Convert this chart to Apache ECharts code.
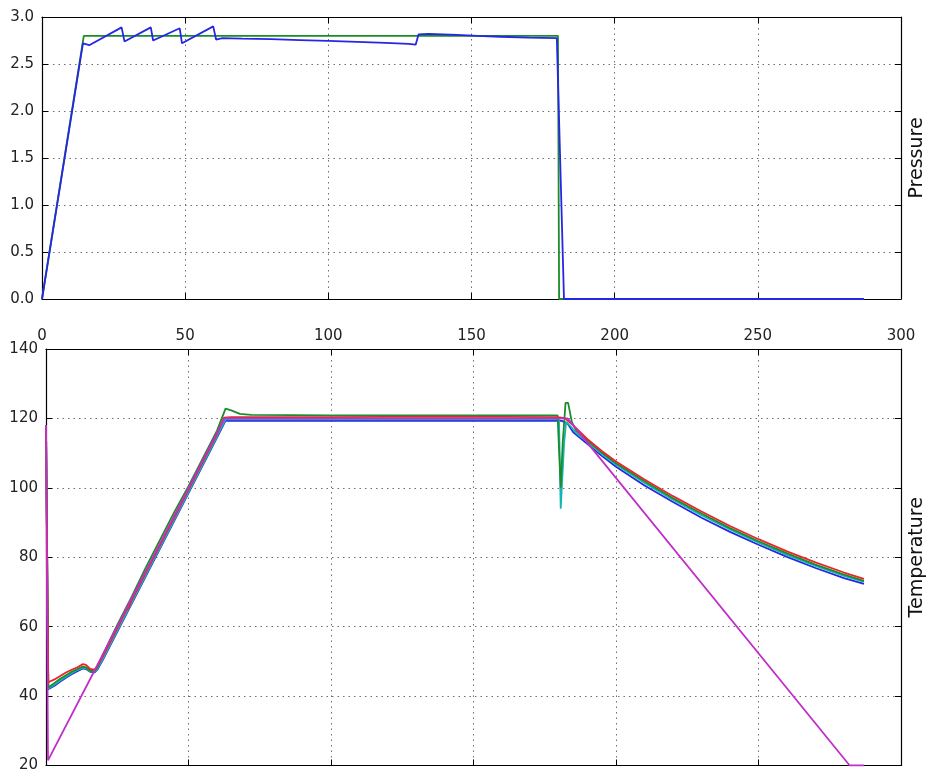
<!DOCTYPE html>
<html>
<head>
<meta charset="utf-8">
<title>Pressure and Temperature</title>
<script src="https://cdn.jsdelivr.net/npm/echarts@6/dist/echarts.min.js"></script>
<style>
  html, body { margin: 0; padding: 0; background: #ffffff; overflow: hidden; }
  #chart { width: 935px; height: 773px; }
</style>
</head>
<body>
<div id="chart"></div>
<script>
// Time axis ticks shared by both panels
const timeTicks = [0, 50, 100, 150, 200, 250, 300];
const pressureTicks = [0.0, 0.5, 1.0, 1.5, 2.0, 2.5, 3.0];
const temperatureTicks = [20, 40, 60, 80, 100, 120, 140];

// Pressure: set point (green) and measured (blue), [time, value]
const pressureSet = [[0, 0], [14.6, 2.8], [180.2, 2.8], [180.6, 0], [287, 0]];
const pressureMeasured = [
  [0, 0], [5, 0.95], [10, 1.9], [14.3, 2.72], [16.5, 2.70], [27.8, 2.89], [28.8, 2.74],
  [38, 2.89], [38.8, 2.75], [48.1, 2.88], [48.9, 2.72], [59.8, 2.90], [60.8, 2.76],
  [63, 2.775], [70, 2.77], [80, 2.765], [90, 2.755], [100, 2.745], [110, 2.735],
  [120, 2.725], [128, 2.715], [130.5, 2.705], [131.5, 2.815], [135, 2.82], [145, 2.81],
  [152, 2.80], [160, 2.79], [170, 2.78], [179.8, 2.775], [182.3, 0], [287, 0]
];

// Temperature probes, [time, value]
const tempRed = [
  [0, 118], [0.8, 44], [1.5, 43.5], [3, 44.8], [5, 45.8], [7, 46.8], [9, 47.6], [11, 48.3],
  [13, 49.2], [14, 49], [15.5, 47.8], [17, 47.6], [18, 48.6], [20, 51.5], [25, 59.5],
  [28, 64.5], [29, 65.5], [30, 67.5], [35, 75.5], [40, 83.5], [45, 91.5], [50, 99.5],
  [55, 107.5], [60, 115.5], [62.5, 120.2], [65, 120.4], [100, 120.4], [140, 120.5],
  [179.5, 120.4], [182, 120.1], [185, 118], [190, 114], [195, 110.6], [200, 107.6],
  [210, 102.4], [220, 97.6], [230, 93.2], [240, 89.0], [250, 85.2], [260, 81.7],
  [270, 78.5], [280, 75.6], [287, 73.8]
];
const tempGreen = [
  [0, 118], [0.8, 42.5], [1.5, 42], [3, 43.8], [5, 45], [7, 46], [9, 47], [11, 47.8],
  [13, 48.5], [14, 48.3], [15.5, 47.3], [17, 47.2], [18, 48.2], [20, 52], [25, 60.5],
  [30, 68.5], [35, 77], [40, 85], [45, 93], [50, 100.5], [55, 108.5], [60, 116.5],
  [63, 122.8], [65, 122.3], [68, 121.3], [72, 121], [100, 120.9], [140, 120.9],
  [179.5, 120.9], [180, 120.5], [180.6, 100], [181.3, 113], [182.3, 124.5], [183.2, 124.5],
  [184.5, 119], [186, 116.5], [190, 113.6], [195, 110.2], [200, 107.1], [210, 101.9],
  [220, 97.0], [230, 92.6], [240, 88.4], [250, 84.6], [260, 81.1], [270, 77.9],
  [280, 75.0], [287, 73.2]
];
const tempCyan = [
  [0, 118], [0.8, 42.2], [1.5, 41.8], [3, 43.3], [5, 44.5], [7, 45.6], [9, 46.6], [11, 47.5],
  [13, 48.2], [14, 48], [15.5, 47.1], [17, 47], [18, 47.8], [20, 50.8], [25, 58.8],
  [30, 66.8], [35, 74.8], [40, 82.8], [45, 90.8], [50, 98.8], [55, 106.8], [60, 114.8],
  [63, 119.7], [65, 119.7], [100, 119.7], [140, 119.8], [180, 119.7], [180.6, 94],
  [181.8, 113], [182.5, 119], [184, 117.8], [186, 115.8], [190, 113.2], [195, 109.8],
  [200, 106.7], [210, 101.4], [220, 96.6], [230, 92.1], [240, 88.0], [250, 84.2],
  [260, 80.7], [270, 77.5], [280, 74.6], [287, 72.9]
];
const tempBlue = [
  [0, 118], [0.8, 42], [1.5, 41.5], [3, 43], [5, 44.2], [7, 45.3], [9, 46.3], [11, 47.2],
  [13, 48], [14, 47.8], [15.5, 47], [17, 46.8], [18, 47.6], [20, 50.5], [25, 58.5],
  [30, 66.5], [35, 74.5], [40, 82.5], [45, 90.5], [50, 98.5], [55, 106.5], [60, 114.5],
  [63, 119.4], [65, 119.3], [100, 119.4], [140, 119.3], [180, 119.4], [181, 119.3],
  [183, 118.5], [185, 116], [190, 112.6], [195, 109.2], [200, 106.1], [210, 100.7],
  [220, 95.9], [230, 91.4], [240, 87.3], [250, 83.6], [260, 80.1], [270, 76.9],
  [280, 74.0], [287, 72.3]
];
const tempSetPoint = [
  [0, 118], [0.7, 21.5], [17, 47.3], [40, 84], [62.6, 120], [183, 120], [282, 20], [287, 20]
];

const font = 'DejaVu Sans';
const gridLine = { show: true, lineStyle: { type: [1.5, 4], color: '#6f6f6f', width: 1 } };
const frameLine = { show: true, onZero: false, lineStyle: { color: '#000', width: 1.2 } };
const tickIn = { show: true, inside: true, length: 6, lineStyle: { color: '#000', width: 1 } };
const labelStyle = { fontFamily: font, fontSize: 15, color: '#222' };

function timeAxis(grid, pos, labels) {
  return {
    type: 'value', gridIndex: grid, position: pos,
    min: timeTicks[0], max: timeTicks[timeTicks.length - 1], interval: 50,
    axisLine: frameLine, axisTick: tickIn,
    axisLabel: labels ? Object.assign({ margin: 30 }, labelStyle) : { show: false },
    splitLine: pos === 'bottom' ? gridLine : { show: false }
  };
}

function valueAxis(grid, pos, ticks, interval, digits, name) {
  return {
    type: 'value', gridIndex: grid, position: pos,
    min: ticks[0], max: ticks[ticks.length - 1], interval: interval,
    axisLine: frameLine, axisTick: tickIn,
    axisLabel: pos === 'left'
      ? Object.assign({ margin: 8, formatter: v => v.toFixed(digits) }, labelStyle)
      : { show: false },
    splitLine: pos === 'left' ? gridLine : { show: false },
    name: name || '', nameLocation: 'middle', nameRotate: 90, nameGap: 7,
    nameTextStyle: { fontFamily: font, fontSize: 19, color: '#111' }
  };
}

function line(data, color, xi, yi) {
  return {
    type: 'line', data: data, xAxisIndex: xi, yAxisIndex: yi,
    showSymbol: false, symbol: 'none', silent: true,
    lineStyle: { color: color, width: 1.8 }
  };
}

const chart = echarts.init(document.getElementById('chart'), null, { renderer: 'canvas' });
chart.setOption({
  animation: false,
  backgroundColor: '#ffffff',
  grid: [
    { left: 42, top: 17, width: 861, height: 282 },
    { left: 46, top: 349, width: 863, height: 422 }
  ],
  xAxis: [
    timeAxis(0, 'bottom', true),
    timeAxis(0, 'top', false),
    timeAxis(1, 'bottom', false),
    timeAxis(1, 'top', false)
  ],
  yAxis: [
    valueAxis(0, 'left', pressureTicks, 0.5, 1),
    valueAxis(0, 'right', pressureTicks, 0.5, 1, 'Pressure'),
    valueAxis(1, 'left', temperatureTicks, 20, 0),
    valueAxis(1, 'right', temperatureTicks, 20, 0, 'Temperature')
  ],
  series: [
    line(pressureSet, '#1c8c2a', 0, 0),
    line(pressureMeasured, '#2626e6', 0, 0),
    line(tempBlue, '#2626e6', 2, 2),
    line(tempCyan, '#14b4b4', 2, 2),
    line(tempGreen, '#1c8c2a', 2, 2),
    line(tempRed, '#e8262a', 2, 2),
    line(tempSetPoint, '#c030c8', 2, 2)
  ]
});
</script>
</body>
</html>
